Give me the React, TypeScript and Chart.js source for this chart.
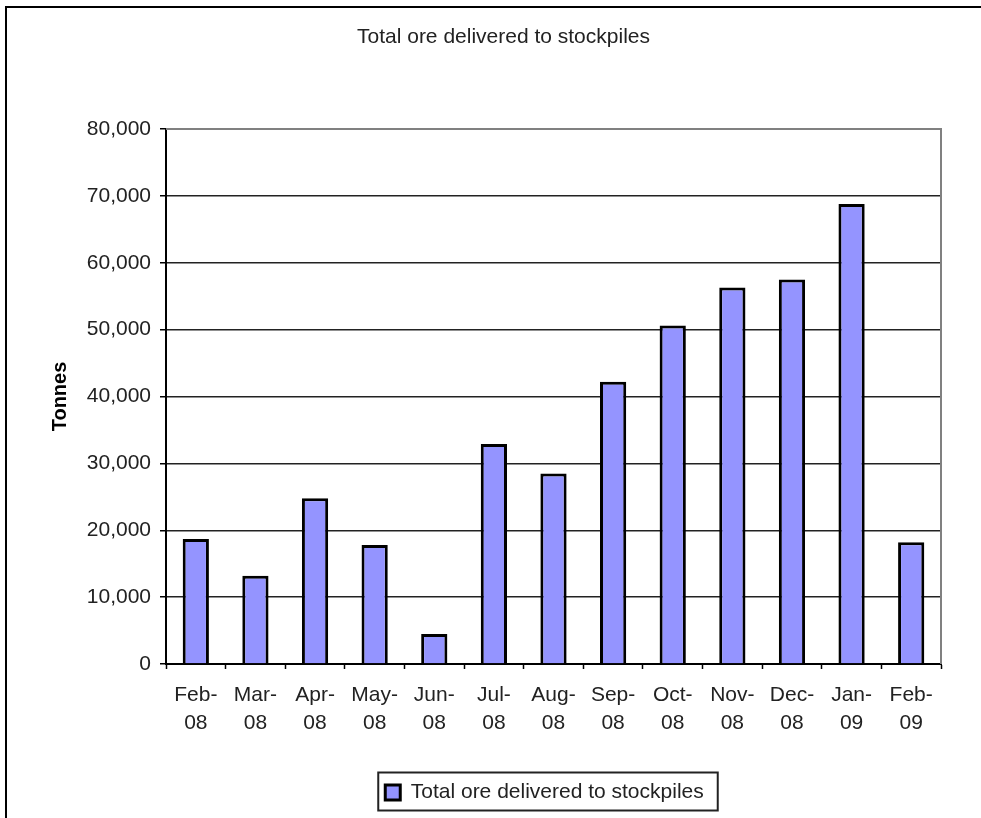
import React, { useEffect, useRef } from "react";
import { Chart, registerables } from "chart.js";

Chart.register(...registerables);

const chartTitle = "Total ore delivered to stockpiles";
const seriesName = "Total ore delivered to stockpiles";
const yAxisTitle = "Tonnes";
const categories: string[][] = [
  ["Feb-", "08"], ["Mar-", "08"], ["Apr-", "08"], ["May-", "08"], ["Jun-", "08"],
  ["Jul-", "08"], ["Aug-", "08"], ["Sep-", "08"], ["Oct-", "08"], ["Nov-", "08"],
  ["Dec-", "08"], ["Jan-", "09"], ["Feb-", "09"],
];
const tonnes: number[] = [
  18700, 13200, 24800, 17800, 4500, 32900, 28500, 42200, 50600, 56300, 57500, 68800, 18200,
];
const yMin = 0;
const yMax = 80000;
const yStep = 10000;

const FONT = '"Liberation Sans", Arial, Helvetica, sans-serif';

export default function App() {
  const ref = useRef<HTMLCanvasElement | null>(null);

  useEffect(() => {
    if (!ref.current) return;
    Chart.defaults.font.family = FONT;

    const framePlugin = {
      id: "framePlugin",
      afterLayout(chart: any) {
        const lg = chart.legend;
        if (lg) {
          lg.left += 74;
          lg.right += 74;
        }
      },
      beforeDatasetsDraw(chart: any) {
        const { ctx, chartArea } = chart;
        ctx.save();
        ctx.strokeStyle = "#808080";
        ctx.lineWidth = 2;
        ctx.beginPath();
        ctx.moveTo(chartArea.left, chartArea.top);
        ctx.lineTo(chartArea.right, chartArea.top);
        ctx.lineTo(chartArea.right, chartArea.bottom);
        ctx.stroke();
        ctx.restore();
      },
      afterDraw(chart: any) {
        const { ctx } = chart;
        ctx.save();
        ctx.fillStyle = "#222";
        ctx.font = `21px ${FONT}`;
        ctx.textAlign = "center";
        ctx.textBaseline = "alphabetic";
        ctx.fillText(chartTitle, 503.5, 43);
        const hb = chart.legend?.legendHitBoxes?.[0];
        if (hb) {
          ctx.strokeStyle = "#222";
          ctx.lineWidth = 2;
          ctx.strokeRect(hb.left - 7, hb.top - 9.5, hb.width + 21, hb.height + 17);
        }
        ctx.restore();
      },
    };

    const chart = new Chart(ref.current, {
      type: "bar",
      data: {
        labels: categories,
        datasets: [
          {
            label: seriesName,
            data: tonnes,
            backgroundColor: "#9494FF",
            borderColor: "#000",
            borderWidth: 3,
            barPercentage: 0.44,
            categoryPercentage: 1,
          },
        ],
      },
      options: {
        responsive: false,
        animation: false,
        devicePixelRatio: 1,
        layout: { padding: { left: 0, right: 40, top: 129, bottom: 5 } },
        plugins: {
          title: { display: false },
          tooltip: { enabled: false },
          legend: {
            display: true,
            position: "bottom",
            labels: {
              boxWidth: 15,
              boxHeight: 15,
              color: "#222",
              font: { size: 21, family: FONT },
            },
          },
        },
        scales: {
          x: {
            afterFit: (s: any) => { s.height = 108; },
            grid: {
              offset: true,
              drawOnChartArea: false,
              drawTicks: true,
              tickLength: 5,
              tickColor: "#000",
              tickWidth: 1.5,
            },
            border: { color: "#000", width: 2 },
            ticks: {
              color: "#222",
              padding: 12,
              maxRotation: 0,
              autoSkip: false,
              font: { size: 21, lineHeight: 1.33, family: FONT },
            },
          },
          y: {
            min: yMin,
            max: yMax,
            afterFit: (s: any) => { s.width = 166; },
            grid: {
              color: (c: any) => (c.tick && c.tick.value === yMax ? "#808080" : "#222"),
              lineWidth: 1.5,
              drawTicks: true,
              tickLength: 6,
              tickColor: "#000",
            },
            border: { color: "#000", width: 2 },
            ticks: {
              stepSize: yStep,
              color: "#222",
              padding: 9,
              font: { size: 21, family: FONT },
              callback: (v: any) => Number(v).toLocaleString("en-US"),
            },
            title: {
              display: true,
              text: yAxisTitle,
              color: "#000",
              font: { size: 20, weight: "bold", family: FONT },
              padding: { top: 48, bottom: 0 },
            },
          },
        },
      },
      plugins: [framePlugin],
    });

    return () => chart.destroy();
  }, []);

  return (
    <div style={{ position: "absolute", left: 0, top: 0, width: 981, height: 818, background: "#fff", overflow: "hidden" }}>
      <div
        style={{
          position: "absolute",
          left: 5,
          top: 6,
          width: 990,
          height: 830,
          borderLeft: "2px solid #000",
          borderTop: "2px solid #000",
          boxSizing: "border-box",
        }}
      />
      <canvas ref={ref} width={981} height={818} style={{ position: "absolute", left: 0, top: 0, display: "block" }} />
    </div>
  );
}
